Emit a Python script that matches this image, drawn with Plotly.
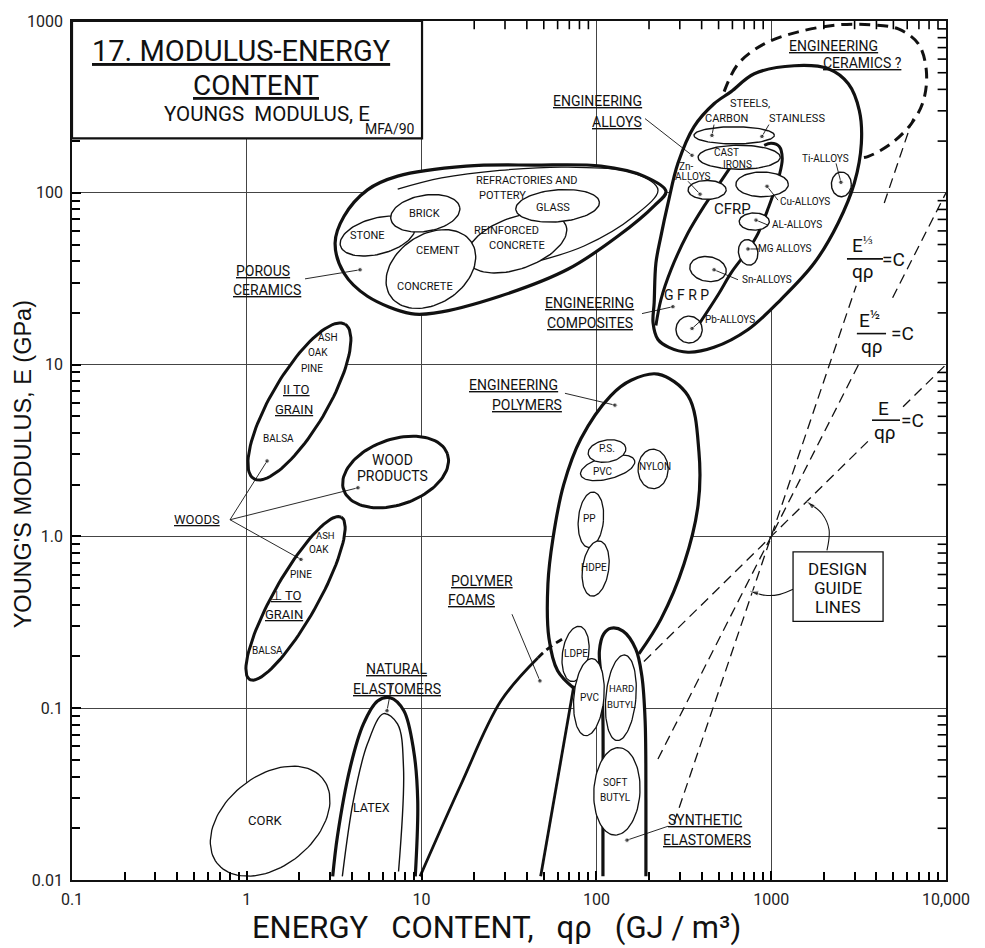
import math
import numpy as np
import plotly.graph_objects as go

INK = "#111111"
FONT = "Roboto"

# ---------------- axis ticks ----------------
x_tick_vals = [0.1, 1, 10, 100, 1000, 10000]
x_tick_text = ["0.1", "1", "10", "100", "1000", "10,000"]
y_tick_vals = [0.01, 0.1, 1, 10, 100, 1000]
y_tick_text = ["0.01", "0.1", "1.0", "10", "100", "1000"]
x_minor = [d * 10.0 ** k for k in range(-1, 4) for d in range(2, 10)]
y_minor = [d * 10.0 ** k for k in range(-2, 3) for d in range(2, 10)]

# ---------------- individual material bubbles ----------------
# centre energy content q*rho (GJ/m^3), centre modulus E (GPa),
# half-axes in decades (major, minor) and tilt of the major axis (deg)
porous_names = ["REINFORCED CONCRETE", "STONE", "BRICK", "GLASS", "CEMENT/CONCRETE"]
porous_qrho = [35, 5.6, 10.5, 60, 11.3]
porous_E = [51, 56, 76, 84, 36]
porous_ha = [0.30, 0.22, 0.20, 0.24, 0.28]
porous_hb = [0.15, 0.105, 0.105, 0.093, 0.20]
porous_tilt = [20, 15, 10, 5, 35]

alloy_names = ["STEELS", "CAST IRONS", "Zn", "Cu", "Ti", "AL", "MG", "Sn", "Pb"]
alloy_qrho = [614, 656, 430, 887, 2520, 800, 738, 435, 339]
alloy_E = [216, 161, 104, 112, 112, 68, 45, 36, 16]
alloy_ha = [0.23, 0.235, 0.109, 0.15, 0.057, 0.086, 0.055, 0.105, 0.075]
alloy_hb = [0.05, 0.07, 0.055, 0.072, 0.072, 0.05, 0.075, 0.072, 0.078]
alloy_tilt = [0, 0, 0, 0, 0, 0, 10, -10, 0]

wood_names = ["PARALLEL TO GRAIN", "PERPENDICULAR TO GRAIN", "WOOD PRODUCTS"]
wood_qrho = [2.0, 1.90, 7.1]
wood_E = [6.1, 0.436, 2.37]
wood_ha = [0.52, 0.54, 0.315]
wood_hb = [0.16, 0.126, 0.19]
wood_tilt = [60, 61, 20]

polymer_names = ["PVC", "PS", "NYLON", "PP", "HDPE", "LDPE", "PVC (EL)", "HARD BUTYL", "SOFT BUTYL"]
polymer_qrho = [116, 115, 211, 93, 99, 76, 90.6, 138, 131]
polymer_E = [2.51, 3.14, 2.47, 1.25, 0.65, 0.207, 0.116, 0.115, 0.0328]
polymer_ha = [0.16, 0.109, 0.086, 0.072, 0.075, 0.075, 0.086, 0.086, 0.132]
polymer_hb = [0.065, 0.064, 0.115, 0.162, 0.162, 0.162, 0.225, 0.25, 0.255]
polymer_tilt = [15, 10, 0, -5, -8, -8, -5, -5, -3]

cork_qrho, cork_E, cork_ha, cork_hb, cork_tilt = 1.36, 0.022, 0.39, 0.26, 40

# ---------------- class envelopes (q*rho, E) ----------------
porous_env_q = [4.9, 7.3, 18, 44, 106, 187, 250, 214, 133, 69, 28, 12, 8.7, 4.9, 3.6, 3.2, 3.6, 4.9]
porous_env_E = [104, 125, 143, 145, 143, 125, 102, 84, 56, 36, 25, 20, 19.8, 25, 34, 51, 73, 104]
refract_q = [7.3, 13, 28, 69, 164, 225, 164, 85, 42]
refract_E = [105, 122, 135, 141, 130, 104, 73, 49, 39]

alloy_env_q = [214, 219, 234, 257, 293, 362, 471, 590, 800, 1355, 2120, 2763, 3193, 3280,
               2990, 2420, 1763, 1140, 738, 471, 334, 260, 225, 211, 214]
alloy_env_E = [22.9, 39, 56, 87, 149, 243, 330, 388, 493, 549, 527, 431, 301, 194,
               114, 67, 39, 24, 16, 12.6, 11.8, 12.6, 14, 17.5, 22.9]
alloy_edge_q = [382, 497, 590, 738, 843, 962, 1112, 1157, 1112, 1000, 912]
alloy_edge_E = [16.9, 25.5, 34.2, 46.5, 58.3, 81.5, 126, 159, 186, 194, 189]
composite_edge_q = [590, 484, 413, 334, 267, 234, 219]
composite_edge_E = [143, 106, 83.6, 58.3, 35.6, 23.9, 16.9]
ceramics_q = [538, 647, 912, 1429, 2420, 3740, 5340, 6950, 7720, 7430, 6340, 4870, 3600, 3193]
ceramics_E = [388, 563, 736, 864, 950, 950, 899, 736, 513, 344, 253, 194, 163, 159]

polymer_env_q = [74, 60, 53.5, 52.8, 56.4, 65, 81.5, 121, 158, 225, 334, 386, 382, 317, 234, 175]
polymer_env_E = [0.131, 0.165, 0.256, 0.53, 0.97, 2.0, 3.7, 6.6, 8.1, 8.8, 6.6, 3.1, 1.53, 0.69, 0.33, 0.207]
synth_q = [109, 109, 109, 107, 104, 110, 121, 142, 168, 182, 190, 192, 192]
synth_E = [0.0105, 0.029, 0.0845, 0.144, 0.215, 0.27, 0.292, 0.281, 0.221, 0.154, 0.0845, 0.029, 0.0105]
foam_left_q = [9.8, 16.7, 28.4, 46.2]
foam_left_E = [0.0105, 0.0355, 0.110, 0.196]
foam_dash_q = [46.2, 50, 57, 65.2]
foam_dash_E = [0.196, 0.212, 0.235, 0.256]
foam_right_q = [48, 74.3]
foam_right_E = [0.0105, 0.135]

natural_q = [3.1, 3.3, 3.9, 4.65, 5.6, 6.6, 7.9, 9.0, 9.5, 9.2]
natural_E = [0.0105, 0.018, 0.045, 0.081, 0.11, 0.115, 0.097, 0.057, 0.029, 0.0105]
latex_q = [3.52, 4.07, 4.9, 6.06, 7.28, 7.88, 7.38]
latex_E = [0.0105, 0.029, 0.062, 0.093, 0.081, 0.045, 0.0112]

# ---------------- design guide lines through (1000 GJ/m^3, 1 GPa) ----------------
guide1_q = [187, 3780, None, 5680, 10000]          # E / q rho = C
guide1_E = [0.187, 3.78, None, 5.68, 10]
guide2_q = [225, 3160, None, 4950, 10000]          # E^1/2 / q rho = C
guide2_E = [0.0506, 10.0, None, 24.5, 100]
guide3_q = [278, 3065, None, 4434, 6470]           # E^1/3 / q rho = C
guide3_E = [0.0215, 28.8, None, 87.2, 271]

pointer1_q = [2084, 2143, 1954, 1603]
pointer1_E = [0.828, 1.094, 1.355, 1.592]
pointer2_q = [1334, 1122, 923, 757]
pointer2_E = [0.492, 0.460, 0.454, 0.479]

fig = go.Figure()


def ellipse(q, e, ha, hb, tilt, n=100):
    t = np.linspace(0, 2 * np.pi, n)
    th = np.radians(tilt)
    dx = ha * np.cos(t) * np.cos(th) - hb * np.sin(t) * np.sin(th)
    dy = ha * np.cos(t) * np.sin(th) + hb * np.sin(t) * np.cos(th)
    return 10 ** (np.log10(q) + dx), 10 ** (np.log10(e) + dy)


def curve(xs, ys, width, fill=False, dash=None, spline=True):
    fig.add_trace(go.Scatter(
        x=xs, y=ys, mode="lines",
        line=dict(color=INK, width=width, dash=dash,
                  shape="spline" if spline else "linear", smoothing=1.0),
        fill="toself" if fill else "none", fillcolor="white",
        hoverinfo="skip", showlegend=False))


def bubbles(qs, es, has, hbs, tilts, width):
    for q, e, a, b, t in zip(qs, es, has, hbs, tilts):
        x, y = ellipse(q, e, a, b, t)
        curve(list(x), list(y), width, fill=True, spline=False)


# porous ceramics
curve(porous_env_q, porous_env_E, 3.2, fill=True)
curve(refract_q, refract_E, 1.3)
bubbles(porous_qrho, porous_E, porous_ha, porous_hb, porous_tilt, 1.4)

# engineering ceramics, alloys and composites
curve(ceramics_q, ceramics_E, 3.0, fill=True, dash="11px,7px")
curve(alloy_env_q, alloy_env_E, 3.2, fill=True)
curve(alloy_edge_q, alloy_edge_E, 3.0)
curve(composite_edge_q, composite_edge_E, 3.0)
bubbles(alloy_qrho, alloy_E, alloy_ha, alloy_hb, alloy_tilt, 1.4)

# woods
bubbles(wood_qrho, wood_E, wood_ha, wood_hb, wood_tilt, 3.0)

# polymers, foams and elastomers
curve(polymer_env_q, polymer_env_E, 3.2, fill=True)
curve(synth_q, synth_E, 3.2, fill=True)
curve(foam_left_q, foam_left_E, 2.8)
curve(foam_dash_q, foam_dash_E, 2.8, dash="7px,5px")
curve(foam_right_q, foam_right_E, 2.8)
bubbles(polymer_qrho, polymer_E, polymer_ha, polymer_hb, polymer_tilt, 1.3)

bubbles([cork_qrho], [cork_E], [cork_ha], [cork_hb], [cork_tilt], 1.3)
curve(natural_q, natural_E, 3.2, fill=True)
curve(latex_q, latex_E, 1.4)

# design guide lines
for gq, ge in ((guide1_q, guide1_E), (guide2_q, guide2_E), (guide3_q, guide3_E)):
    curve(gq, ge, 1.3, dash="10px,6px", spline=False)

# curved pointers from the DESIGN GUIDE LINES box, with arrow heads
for pq, pe in ((pointer1_q, pointer1_E), (pointer2_q, pointer2_E)):
    fig.add_trace(go.Scatter(
        x=pq, y=pe, mode="lines+markers",
        line=dict(color=INK, width=1.1, shape="spline"),
        marker=dict(symbol="arrow", angleref="previous", color=INK,
                    size=[0] * (len(pq) - 1) + [9]),
        hoverinfo="skip", showlegend=False))

# leader lines: text end -> dot on the region (log10 coordinates)
leaders = [
    (0.333, 1.499, 0.648, 1.552), (2.278, 2.432, 2.547, 2.218), (2.261, 1.297, 2.438, 1.337),
    (2.673, 2.397, 2.661, 2.334), (2.987, 2.397, 2.947, 2.328), (2.524, 2.067, 2.593, 1.992),
    (3.371, 2.171, 3.399, 2.061), (3.039, 1.957, 2.976, 2.038), (2.982, 1.812, 2.913, 1.841),
    (2.930, 1.673, 2.867, 1.673), (2.810, 1.494, 2.673, 1.552), (2.604, 1.262, 2.547, 1.210),
    (-0.096, 0.097, 0.116, 0.439), (-0.096, 0.097, 0.636, 0.283), (-0.096, 0.097, 0.310, -0.134),
    (1.820, 0.833, 2.106, 0.764), (1.517, -0.453, 1.677, -0.841), (2.410, -1.687, 2.175, -1.768),
    (0.831, -0.859, 0.802, -1.015),
]
for tx, ty, dx, dy in leaders:
    fig.add_trace(go.Scatter(
        x=[10 ** tx, 10 ** dx], y=[10 ** ty, 10 ** dy], mode="lines+markers",
        line=dict(color=INK, width=0.9), marker=dict(size=[0, 4.5], color=INK),
        hoverinfo="skip", showlegend=False))

# inward minor ticks on the top and right frame edges (length in decades)
TICK_LEN_X, TICK_LEN_Y = 0.048, 0.048
x_top, y_top = x_tick_vals[-1], y_tick_vals[-1]
top_x, top_y, right_x, right_y = [], [], [], []
for v in x_minor:
    top_x += [v, v, None]
    top_y += [y_top, y_top / 10 ** TICK_LEN_Y, None]
for v in y_minor:
    right_x += [x_top, x_top / 10 ** TICK_LEN_X, None]
    right_y += [v, v, None]
for tx_, ty_ in ((top_x, top_y), (right_x, right_y)):
    fig.add_trace(go.Scatter(x=tx_, y=ty_, mode="lines", line=dict(color="black", width=1.6),
                             hoverinfo="skip", showlegend=False))

ann = []


def label(text, lx, ly, size, underline=False):
    ann.append(dict(x=lx, y=ly, xref="x", yref="y", text=f"<u>{text}</u>" if underline else text,
                    showarrow=False, xanchor="center", yanchor="middle",
                    font=dict(family=FONT, size=size, color=INK)))


region_labels = [
    ("REFRACTORIES AND", 1.603, 2.073, 11, False), ("POTTERY", 1.460, 1.986, 11, False),
    ("GLASS", 1.752, 1.917, 11, False), ("BRICK", 1.019, 1.882, 11, False),
    ("STONE", 0.693, 1.749, 11, False), ("CEMENT", 1.094, 1.667, 11, False),
    ("REINFORCED", 1.483, 1.778, 11, False), ("CONCRETE", 1.546, 1.691, 11, False),
    ("CONCRETE", 1.019, 1.453, 11, False),
    ("POROUS", 0.093, 1.546, 14, True), ("CERAMICS", 0.116, 1.436, 14, True),
    ("ENGINEERING", 2.009, 2.537, 14, True), ("ALLOYS", 2.118, 2.415, 14, True),
    ("STEELS,", 2.879, 2.519, 11, False), ("CARBON", 2.747, 2.432, 11, False),
    ("STAINLESS", 3.148, 2.432, 11, False), ("CAST", 2.747, 2.236, 10, False),
    ("IRONS", 2.810, 2.166, 10, False), ("Zn-", 2.513, 2.154, 10, False),
    ("ALLOYS", 2.553, 2.096, 10, False), ("CFRP", 2.776, 1.905, 15, False),
    ("Cu-ALLOYS", 3.193, 1.951, 10, False), ("Ti-ALLOYS", 3.308, 2.200, 10, False),
    ("AL-ALLOYS", 3.148, 1.818, 10, False), ("MG ALLOYS", 3.079, 1.673, 10, False),
    ("Sn-ALLOYS", 2.976, 1.494, 10, False), ("G F R P", 2.518, 1.407, 14, False),
    ("Pb-ALLOYS", 2.764, 1.262, 10, False),
    ("ENGINEERING", 1.963, 1.360, 14, True), ("COMPOSITES", 1.963, 1.244, 14, True),
    ("ENGINEERING", 3.354, 2.855, 14, True), ("CERAMICS ?", 3.525, 2.757, 14, True),
    ("ASH", 0.466, 1.158, 10, False), ("OAK", 0.410, 1.071, 10, False),
    ("PINE", 0.373, 0.978, 10, False), ("II TO", 0.282, 0.856, 13, True),
    ("GRAIN", 0.270, 0.740, 13, True), ("BALSA", 0.180, 0.567, 10, False),
    ("WOOD", 0.836, 0.445, 14, False), ("PRODUCTS", 0.836, 0.352, 14, False),
    ("ASH", 0.448, 0.005, 9.5, False), ("OAK", 0.412, -0.078, 10, False),
    ("PINE", 0.308, -0.221, 10, False), ("⊥ TO", 0.225, -0.343, 13, True),
    ("GRAIN", 0.212, -0.453, 13, True), ("BALSA", 0.121, -0.667, 10, False),
    ("WOODS", -0.285, 0.097, 13, True),
    ("ENGINEERING", 1.523, 0.880, 14, True), ("POLYMERS", 1.603, 0.764, 14, True),
    ("P.S.", 2.061, 0.514, 10, False), ("PVC", 2.038, 0.375, 10, False),
    ("NYLON", 2.335, 0.404, 10, False), ("PP", 1.963, 0.103, 10, False),
    ("HDPE", 1.986, -0.181, 10, False),
    ("POLYMER", 1.346, -0.262, 14, True), ("FOAMS", 1.288, -0.372, 14, True),
    ("LDPE", 1.883, -0.679, 10, False), ("PVC", 1.963, -0.940, 10, False),
    ("HARD", 2.146, -0.888, 9.5, False), ("BUTYL", 2.146, -0.980, 9.5, False),
    ("SOFT", 2.106, -1.432, 10, False), ("BUTYL", 2.112, -1.519, 10, False),
    ("SYNTHETIC", 2.621, -1.652, 14, True), ("ELASTOMERS", 2.633, -1.768, 14, True),
    ("NATURAL", 0.859, -0.772, 14, True), ("ELASTOMERS", 0.859, -0.888, 14, True),
    ("LATEX", 0.716, -1.577, 12.5, False), ("CORK", 0.104, -1.652, 13, False),
]
for t, lx, ly, s, u in region_labels:
    label(t, lx, ly, s, u)


def ptext(text, xp, yp, size, family=FONT, angle=0):
    ann.append(dict(x=xp, y=yp, xref="paper", yref="paper", text=text, showarrow=False,
                    xanchor="center", yanchor="middle", textangle=angle,
                    font=dict(family=family, size=size, color=INK)))


# title block
ptext("<u>17. MODULUS-ENERGY</u>", 0.1945, 0.9652, 29)
ptext("<u>CONTENT</u>", 0.2105, 0.9247, 28)
ptext("YOUNGS  MODULUS, E", 0.2231, 0.8923, 20.5)
ptext("MFA/90", 0.3638, 0.8737, 14)

# guide-line formulae
ptext("E<sup>⅓</sup>", 0.904, 0.7395, 19)
ptext("qρ", 0.905, 0.7085, 19)
ptext("=C", 0.9405, 0.7225, 19)
ptext("E<sup>½</sup>", 0.913, 0.6525, 19)
ptext("qρ", 0.9153, 0.6215, 19)
ptext("=C", 0.9497, 0.6365, 19)
ptext("E", 0.929, 0.5490, 19)
ptext("qρ", 0.9302, 0.5205, 19)
ptext("=C", 0.9622, 0.5350, 19)

ptext("DESIGN", 0.876, 0.3625, 17)
ptext("GUIDE", 0.876, 0.3405, 17)
ptext("LINES", 0.876, 0.3175, 17)

# axis titles
ptext("YOUNG'S MODULUS, E (GPa)", -0.056, 0.484, 23.5, family="Liberation Sans", angle=-90)
ptext("ENERGY\u00a0\u00a0\u00a0CONTENT,\u00a0\u00a0\u00a0qρ\u00a0\u00a0\u00a0(GJ\u00a0/\u00a0m³)", 0.486, -0.0556, 31)

shapes = [
    dict(type="rect", xref="paper", yref="paper", x0=0, x1=0.4005, y0=0.8633, y1=1.0,
         line=dict(color=INK, width=2.2), fillcolor="white", layer="above"),
    dict(type="rect", xref="paper", yref="paper", x0=0.825, x1=0.928, y0=0.301, y1=0.382,
         line=dict(color=INK, width=1.3), fillcolor="white", layer="above"),
]
for x0, x1, y in ((0.8867, 0.9279, 0.7231), (0.898, 0.9314, 0.6361), (0.9153, 0.9474, 0.5353)):
    shapes.append(dict(type="line", xref="paper", yref="paper", x0=x0, x1=x1, y0=y, y1=y,
                       line=dict(color=INK, width=1.6), layer="above"))

tick_style = dict(ticks="inside", ticklen=9, tickwidth=1.6, tickcolor="black", fixedrange=True,
                  zeroline=False, tickfont=dict(family=FONT, size=16, color="#222222"),
                  showline=True, linewidth=1.6, linecolor=INK, mirror=True,
                  showgrid=True, gridcolor="#444444", gridwidth=1, ticklabelstandoff=4)
minor_style = dict(ticks="inside", ticklen=8, tickwidth=1.6, tickcolor="black", showgrid=False)
fig.update_layout(
    width=985, height=948, margin=dict(l=72, r=39, t=17, b=68),
    paper_bgcolor="white", plot_bgcolor="white", showlegend=False,
    xaxis=dict(type="log", range=[-1, 4], tickvals=x_tick_vals, ticktext=x_tick_text,
               minor=dict(tickvals=x_minor, **minor_style), **tick_style),
    yaxis=dict(type="log", range=[-2, 3], tickvals=y_tick_vals, ticktext=y_tick_text,
               minor=dict(tickvals=y_minor, **minor_style), **tick_style),
    annotations=ann, shapes=shapes,
)

fig.write_html("out.html")
